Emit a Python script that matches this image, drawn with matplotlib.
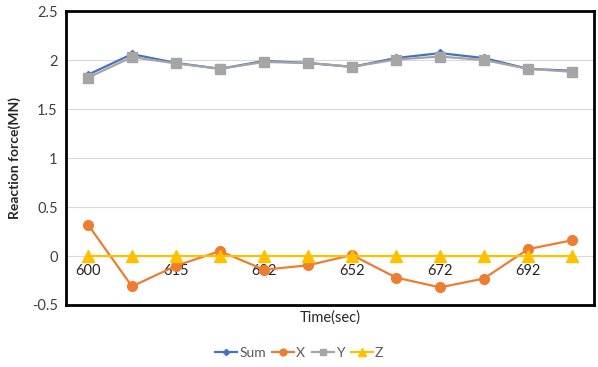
import matplotlib
matplotlib.use("Agg")
import matplotlib.pyplot as plt
import matplotlib.transforms as mtransforms

plt.rcParams['font.family'] = ['Lato', 'DejaVu Sans']

categories = ['600', '', '615', '', '632', '', '652', '', '672', '', '692', '']
sum_vals = [1.85, 2.06, 1.97, 1.91, 1.99, 1.97, 1.93, 2.02, 2.07, 2.02, 1.91, 1.89]
x_vals = [0.32, -0.31, -0.10, 0.05, -0.14, -0.095, 0.01, -0.22, -0.32, -0.23, 0.07, 0.16]
y_vals = [1.82, 2.03, 1.965, 1.91, 1.98, 1.97, 1.93, 2.005, 2.035, 2.0, 1.91, 1.88]
z_vals = [0.0] * 12
yticks = [-0.5, 0, 0.5, 1, 1.5, 2, 2.5]

fig = plt.figure(figsize=(5.98, 3.67), dpi=100)
ax = fig.add_axes([66/598, 62/367, 528/598, 294/367])

idx = list(range(len(categories)))
ax.plot(idx, sum_vals, color='#4472C4', lw=1.6, marker='D', ms=4.5, label='Sum', zorder=3)
ax.plot(idx, x_vals, color='#ED7D31', lw=1.6, marker='o', ms=7, label='X', zorder=3)
ax.plot(idx, y_vals, color='#A5A5A5', lw=1.6, marker='s', ms=7, label='Y', zorder=3)
ax.plot(idx, z_vals, color='#FFC000', lw=1.6, marker='^', ms=8, label='Z', zorder=3)

ax.set_xlim(-0.5, len(categories) - 0.5)
ax.set_ylim(-0.5, 2.5)
ax.set_yticks(yticks)
ax.set_yticklabels([f'{t:g}' for t in yticks], fontsize=10.5, color='#404040')
ax.tick_params(axis='y', length=0, pad=6)
ax.set_xticks([])
ax.grid(axis='y', color='#D9D9D9', lw=0.8, zorder=0)

trans = mtransforms.offset_copy(ax.transData, fig=fig, x=0, y=-15, units='dots')
for i, lab in enumerate(categories):
    if lab:
        ax.text(i, 0, lab, transform=trans, ha='center', va='center',
                fontsize=10.5, color='#262626', zorder=1)

for s in ax.spines.values():
    s.set_linewidth(2)
    s.set_color('black')

ax.set_ylabel('Reaction force(MN)', fontsize=10, fontweight='bold', color='#262626', labelpad=8)
ax.set_xlabel('Time(sec)', fontsize=10.5, color='#262626', labelpad=4)

fig.legend(loc='center', bbox_to_anchor=(0.5, 1 - 353/367), ncol=4, frameon=False,
           fontsize=10, labelcolor='#595959', handlelength=1.6, handletextpad=0.15,
           columnspacing=0.45, markerscale=0.7)

fig.savefig('out.png', dpi=100)
